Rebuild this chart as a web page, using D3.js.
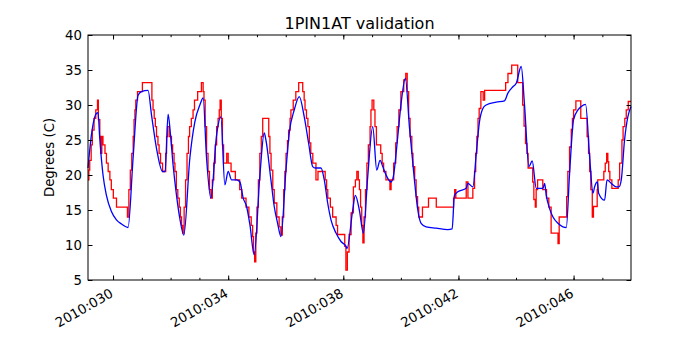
<!DOCTYPE html>
<html>
<head>
<meta charset="utf-8">
<script src="https://cdn.jsdelivr.net/npm/d3@7"></script>
<style>
  body { margin: 0; background: #fff; }
  text { font-family: "DejaVu Sans", sans-serif; }
</style>
</head>
<body>
<div id="chart"></div>
<script>
// Day of year range shown and tick days
const xRange = [29.13, 47.995];
const majorDays = [30, 34, 38, 42, 46];
const minorDays = [30, 31, 32, 33, 34, 35, 36, 37, 38, 39, 40, 41, 42, 43, 44, 45, 46, 47];
const majorLabels = ["2010:030", "2010:034", "2010:038", "2010:042", "2010:046"];
const yTicks = [5, 10, 15, 20, 25, 30, 35, 40];

// Telemetry (red, stepped) : day of year, degrees C
const telemDays = [29.13, 29.16, 29.19, 29.24, 29.28, 29.34, 29.40, 29.46, 29.49, 29.54, 29.57, 29.61, 29.65, 29.72, 29.77, 29.83, 29.89, 29.94, 30.01, 30.12, 30.50,
  30.55, 30.60, 30.65, 30.70, 30.73, 30.76, 30.79, 30.85, 31.02, 31.35, 31.39, 31.43, 31.47, 31.51, 31.56, 31.60, 31.65, 31.72, 31.83, 31.86, 31.89, 31.95,
  32.03, 32.07, 32.12, 32.15, 32.20, 32.25, 32.30, 32.34, 32.38, 32.42, 32.47, 32.52, 32.57, 32.62, 32.66, 32.72, 32.78, 32.83, 32.94, 33.07, 33.13, 33.16,
  33.20, 33.25, 33.30, 33.35, 33.40, 33.45, 33.50, 33.55, 33.60, 33.65, 33.69, 33.72, 33.76, 33.80, 33.84, 33.95, 34.00, 34.10, 34.25, 34.40, 34.47, 34.62,
  34.72, 34.80, 34.85, 34.88, 34.92, 34.96, 35.00, 35.05, 35.10, 35.15, 35.20, 35.41, 35.45, 35.49, 35.55, 35.60, 35.69, 35.77, 35.83, 35.88, 35.93, 35.97,
  36.01, 36.06, 36.10, 36.15, 36.18, 36.26, 36.35, 36.45, 36.59, 36.64, 36.67, 36.72, 36.77, 36.82, 36.87, 36.94, 37.05, 37.12, 37.37, 37.42, 37.46, 37.55,
  37.63, 37.75, 37.80, 38.05, 38.09, 38.14, 38.20, 38.27, 38.35, 38.42, 38.47, 38.52, 38.56, 38.60, 38.64, 38.68, 38.72, 38.77, 38.82, 38.87, 38.93, 38.96,
  39.00, 39.06, 39.10, 39.15, 39.30, 39.35, 39.40, 39.48, 39.62, 39.66, 39.75, 39.82, 39.87, 39.93, 40.00, 40.10, 40.17, 40.22, 40.27, 40.32, 40.38, 40.42,
  40.48, 40.53, 40.58, 40.62, 40.75, 40.96, 41.23, 41.83, 41.87, 41.91, 42.27, 42.33, 42.50, 42.56, 42.60, 42.64, 42.68, 42.72, 42.78, 42.86, 42.91, 43.64,
  43.72, 43.85, 44.06, 44.23, 44.28, 44.33, 44.38, 44.42, 44.58, 44.62, 44.67, 44.70, 44.75, 44.93, 45.06, 45.14, 45.22, 45.46, 45.50, 45.76, 45.80, 45.86,
  45.92, 45.96, 46.00, 46.08, 46.25, 46.47, 46.52, 46.56, 46.60, 46.65, 46.69, 46.82, 46.84, 47.05, 47.10, 47.15, 47.19, 47.22, 47.26, 47.33, 47.55, 47.60,
  47.68, 47.72, 47.78, 47.83, 47.90, 47.94, 47.995];
const telemTemps = [19.3, 20.7, 22.1, 24.3, 26.4, 28.1, 29.3, 30.7, 27.9, 25.5, 23.1, 25.5, 24.3, 23.1, 21.7, 20.5, 19.3, 17.9, 16.7, 15.4, 14.0,
  17.9, 20.7, 23.1, 25.5, 27.9, 29.3, 30.7, 31.9, 33.2, 30.7, 29.3, 28.1, 26.9, 25.5, 24.3, 23.1, 21.7, 20.5, 23.1, 25.5, 26.9, 25.5,
  24.3, 23.1, 21.7, 20.5, 17.9, 16.7, 15.4, 14.0, 12.8, 11.7, 15.4, 19.3, 23.1, 25.5, 26.9, 28.1, 29.3, 30.7, 31.9, 33.2, 31.9, 30.7,
  26.9, 23.1, 20.5, 17.9, 16.7, 19.3, 21.7, 24.3, 26.9, 28.1, 29.3, 30.7, 28.1, 24.3, 21.7, 23.1, 21.7, 20.5, 19.3, 17.9, 16.7, 15.4,
  14.0, 12.8, 11.2, 9.0, 7.6, 11.7, 15.4, 19.3, 23.1, 25.5, 28.1, 25.5, 23.1, 20.7, 17.9, 16.0, 14.0, 12.6, 11.4, 14.0, 17.9, 20.5,
  23.1, 24.9, 26.4, 28.1, 29.3, 30.7, 31.9, 33.2, 31.9, 30.7, 29.3, 28.1, 26.9, 24.6, 23.1, 21.7, 19.3, 20.5, 19.3, 17.9, 16.7, 15.4,
  14.0, 12.8, 11.5, 9.8, 6.4, 9.0, 11.5, 14.6, 18.3, 19.3, 20.5, 19.3, 17.9, 15.4, 12.8, 10.3, 14.0, 17.9, 21.7, 24.3, 26.9, 29.3,
  30.7, 29.3, 26.9, 24.3, 23.1, 21.7, 20.5, 19.3, 17.9, 19.3, 21.7, 24.6, 26.9, 29.3, 31.9, 33.6, 34.5, 31.9, 28.1, 25.5, 23.1, 21.2,
  19.3, 16.9, 15.4, 14.0, 15.4, 16.7, 15.4, 16.7, 17.9, 16.7, 19.0, 16.7, 18.1, 20.5, 23.1, 25.5, 28.1, 29.5, 31.9, 30.7, 32.1,
  33.2, 34.5, 35.7, 33.2, 30.0, 27.0, 24.5, 23.1, 21.0, 19.0, 16.5, 15.4, 17.9, 19.3, 17.9, 16.7, 15.4, 11.7, 10.2, 14.0, 16.9, 20.5,
  24.0, 26.5, 28.1, 29.3, 30.6, 28.1, 25.5, 23.1, 20.5, 17.9, 14.0, 15.5, 17.9, 19.3, 20.5, 21.7, 23.1, 21.9, 20.5, 19.3, 18.1, 19.3,
  21.7, 25.0, 26.9, 28.1, 29.3, 30.5, 30.5];

// Model prediction (blue)
const modelDays = [29.13, 29.248, 29.422, 29.478, 29.537, 29.652, 29.770, 29.944, 30.118, 30.292, 30.522, 30.696, 30.870, 30.987, 31.217, 31.336, 31.510,
  31.718, 31.809, 31.913, 31.997, 32.087, 32.205, 32.320, 32.459, 32.668, 32.842, 33.017, 33.130, 33.249, 33.398, 33.597, 33.746, 33.885, 34.000, 34.118,
  34.292, 34.407, 34.522, 34.640, 34.755, 34.904, 35.103, 35.252, 35.311, 35.485, 35.600, 35.718, 35.833, 36.007, 36.122, 36.296, 36.470, 36.643, 36.797,
  36.936, 37.027, 37.225, 37.339, 37.457, 37.572, 37.746, 37.920, 38.094, 38.129, 38.327, 38.417, 38.557, 38.696, 38.849, 39.022, 39.162, 39.277, 39.370,
  39.485, 39.659, 39.739, 39.892, 40.007, 40.157, 40.296, 40.470, 40.588, 40.703, 40.877, 41.224, 41.631, 41.781, 41.861, 41.979, 42.268, 42.327, 42.501,
  42.616, 42.730, 42.849, 42.963, 43.311, 43.600, 43.718, 43.892, 44.007, 44.181, 44.296, 44.449, 44.563, 44.703, 44.937, 44.993, 45.051, 45.166, 45.285,
  45.457, 45.631, 45.746, 45.861, 46.000, 46.153, 46.268, 46.417, 46.557, 46.675, 46.730, 46.824, 46.870, 47.078, 47.162, 47.311, 47.485, 47.577, 47.657,
  47.771, 47.885, 47.995];
const modelTemps = [21.0, 25.7, 28.8, 28.9, 25.3, 20.0, 17.1, 14.8, 13.6, 13.0, 12.5, 22.4, 31.4, 31.9, 32.1, 28.6, 23.8,
  20.5, 20.5, 28.7, 25.7, 21.4, 17.1, 13.8, 11.4, 22.4, 27.6, 30.0, 31.0, 22.4, 16.7, 25.7, 28.3, 18.6, 20.5, 19.3,
  19.3, 19.0, 16.7, 15.5, 12.9, 8.6, 20.0, 26.0, 25.0, 19.3, 15.5, 13.1, 11.2, 20.7, 26.0, 29.3, 31.2, 28.3, 24.5,
  21.2, 21.0, 21.0, 19.3, 16.0, 13.6, 11.7, 10.5, 9.8, 9.5, 15.0, 17.1, 15.0, 11.7, 19.8, 26.9, 20.7, 22.1, 21.2,
  20.0, 19.0, 19.8, 25.5, 30.2, 33.8, 26.9, 19.3, 15.0, 13.1, 12.6, 12.4, 12.2, 12.3, 17.1, 17.6, 18.1, 18.8, 18.3,
  22.9, 27.6, 29.5, 30.0, 30.4, 30.6, 31.7, 32.6, 33.1, 35.5, 30.0, 21.2, 22.0, 18.1, 18.1, 18.8, 17.1, 15.2, 14.0,
  13.1, 12.6, 12.5, 20.2, 27.9, 29.3, 29.8, 30.1, 22.6, 17.4, 18.3, 19.0, 17.4, 16.4, 19.3, 18.8, 18.3, 18.3, 19.3,
  25.0, 28.3, 29.8];

// Set the dimensions and margins of the graph
let margin = {top: 35, right: 69, bottom: 70, left: 88};
let width = 700 - margin.left - margin.right;
let height = 350 - margin.top - margin.bottom;

let svg = d3.select("#chart")
    .append("svg")
    .attr("width", 700)
    .attr("height", 350)
    .append("g")
    .attr("transform", `translate(${margin.left}, ${margin.top})`);

const x = d3.scaleLinear().domain(xRange).range([0, width]);
const y = d3.scaleLinear().domain([5, 40]).range([height, 0]);

// Lines
const telem = telemDays.map((d, i) => [d, telemTemps[i]]);
const model = modelDays.map((d, i) => [d, modelTemps[i]]);

svg.append("path")
    .datum(telem)
    .attr("fill", "none")
    .attr("stroke", "#ff0000")
    .attr("stroke-width", 1.3)
    .attr("d", d3.line().x(d => x(d[0])).y(d => y(d[1])).curve(d3.curveStepAfter));

svg.append("path")
    .datum(model)
    .attr("fill", "none")
    .attr("stroke", "#0000ff")
    .attr("stroke-width", 1.3)
    .attr("d", d3.line().x(d => x(d[0])).y(d => y(d[1])).curve(d3.curveMonotoneX));

// Axes with inward ticks, matplotlib style
svg.append("g")
    .attr("transform", `translate(0, ${height})`)
    .call(d3.axisBottom(x).tickValues(majorDays).tickSizeInner(-4.5).tickSizeOuter(0).tickFormat(""));
svg.append("g")
    .attr("transform", `translate(0, ${height})`)
    .call(d3.axisBottom(x).tickValues(minorDays).tickSizeInner(-2.2).tickSizeOuter(0).tickFormat(""));
svg.append("g")
    .call(d3.axisTop(x).tickValues(majorDays).tickSizeInner(-4.5).tickSizeOuter(0).tickFormat(""));
svg.append("g")
    .call(d3.axisTop(x).tickValues(minorDays).tickSizeInner(-2.2).tickSizeOuter(0).tickFormat(""));

// Rotated date labels (right end sits under the tick)
svg.selectAll(".xlabel")
    .data(majorDays)
    .enter()
    .append("text")
    .attr("class", "xlabel")
    .attr("transform", d => `translate(${x(d) + 1}, ${height + 16}) rotate(-30)`)
    .style("text-anchor", "end")
    .style("font-size", "13.3px")
    .style("fill", "#000")
    .text((d, i) => majorLabels[i]);

svg.append("g")
    .call(d3.axisLeft(y).tickValues(yTicks).tickSizeInner(-4.5).tickSizeOuter(0).tickPadding(6))
    .selectAll("text")
    .style("font-size", "13.3px")
    .style("fill", "#000");

svg.append("g")
    .attr("transform", `translate(${width}, 0)`)
    .call(d3.axisRight(y).tickValues(yTicks).tickSizeInner(-4.5).tickSizeOuter(0).tickFormat(""));

svg.selectAll(".domain").remove();
svg.selectAll(".tick line").attr("stroke", "#000");

// Frame
svg.append("rect")
    .attr("x", 0)
    .attr("y", 0)
    .attr("width", width)
    .attr("height", height)
    .attr("fill", "none")
    .attr("stroke", "#000")
    .attr("stroke-width", 1);

// Title and label
d3.select("#chart svg").append("text")
    .attr("x", margin.left + width / 2)
    .attr("y", 29)
    .style("text-anchor", "middle")
    .style("font-size", "16px")
    .text("1PIN1AT validation");

d3.select("#chart svg").append("text")
    .attr("transform", `translate(54, ${margin.top + height / 2}) rotate(-90)`)
    .style("text-anchor", "middle")
    .style("font-size", "13.3px")
    .text("Degrees (C)");
</script>
</body>
</html>
